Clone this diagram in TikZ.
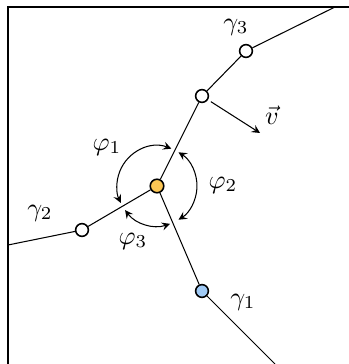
\documentclass[tikz,border=0pt]{standalone}
\definecolor{jorange}{RGB}{252,198,84}
\definecolor{jblue}{RGB}{160,202,245}
\tikzset{pt/.style={circle,draw,line width=.6pt,fill=white,inner sep=0pt,minimum size=4.9pt}}
\begin{document}
\begin{tikzpicture}[x=.135cm,y=.135cm,>=stealth]
  \useasboundingbox (0,0) rectangle (34.9,36.4);
  \draw[line width=.7pt] (34.9,35.7)--(0.8,35.7)--(0.8,0);
  \node[pt,fill=jorange,minimum size=5.2pt] (c) at (15.7,17.8) {};
  \node[pt] (a) at (20.2,26.8) {}; \node[pt] (b) at (24.6,31.3) {};
  \node[pt] (l) at (8.2,13.4) {}; \node[pt,fill=jblue] (g) at (20.2,7.3) {};
  \coordinate (e3) at (33.5,35.7); \coordinate (e2) at (0.8,11.9); \coordinate (e1) at (27.5,0);
  \coordinate (vtip) at (26.0,23.1);
  \draw (c)--(a)--(b)--(e3); \draw (c)--(l)--(e2); \draw (c)--(g)--(e1);
  \draw[->,shorten <=1.3pt] (a)--(vtip);
  \draw[<->] (c.center) ++(69:4) arc (69:205:4);
  \draw[<->] (c.center) ++(57.5:4) arc (57.5:-57.5:4);
  \draw[<->] (c.center) ++(217:4) arc (217:289:4);
  \node (v) at (27.2,24.9) {$\vec{v}$};
  \node (phi1) at (10.7,21.7) {$\varphi_1$}; \node (phi2) at (22.3,17.9) {$\varphi_2$}; \node (phi3) at (13.3,12.3) {$\varphi_3$};
  \node (gam3) at (23.6,33.7) {$\gamma_3$}; \node (gam2) at (4.0,15.1) {$\gamma_2$}; \node (gam1) at (24.3,6.2) {$\gamma_1$};
\end{tikzpicture}
\end{document}
